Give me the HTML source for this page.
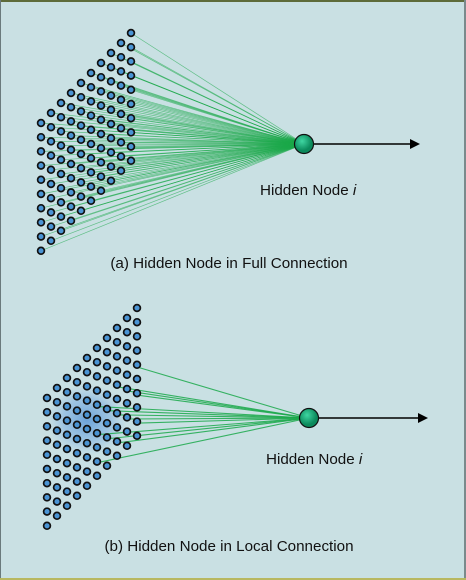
<!DOCTYPE html>
<html><head><meta charset="utf-8"><style>
html,body{margin:0;padding:0;background:#fff}
svg{display:block}
text{font-family:"Liberation Sans",Arial,sans-serif;font-size:15.2px;fill:#111}
</style></head><body>
<svg id="s" width="466" height="580" viewBox="0 0 466 580">
<defs>
<radialGradient id="glow"><stop offset="0" stop-color="#4d8fd6" stop-opacity="0.75"/><stop offset="0.6" stop-color="#6aa3e0" stop-opacity="0.45"/><stop offset="1" stop-color="#8ab8e8" stop-opacity="0"/></radialGradient>
<radialGradient id="node" cx="0.4" cy="0.35"><stop offset="0" stop-color="#3fd6a2"/><stop offset="1" stop-color="#0b8a5c"/></radialGradient>
</defs>
<rect x="0" y="0" width="466" height="580" fill="#c9e0e3"/>
<rect x="0" y="0" width="466" height="2" fill="#5d6b3a"/>
<rect x="0" y="0" width="1" height="580" fill="#6a7a7c"/>
<rect x="464" y="0" width="2" height="580" fill="#7a8a8c"/>
<rect x="0" y="578" width="466" height="2" fill="#b8b860"/>
<g id="top"></g>
<g id="bot"></g>
<text x="229" y="268" text-anchor="middle">(a) Hidden Node in Full Connection</text>
<text x="229" y="551" text-anchor="middle">(b) Hidden Node in Local Connection</text>
<text x="260" y="195">Hidden Node <tspan font-style="italic">i</tspan></text>
<text x="266" y="464">Hidden Node <tspan font-style="italic">i</tspan></text>
</svg>
<script>
const NS="http://www.w3.org/2000/svg";
const cols=10, rows=10;
const colors=["#1aa84a","#22b060","#8cc63f","#d4c62a","#16a050","#40b850","#1aa84a"];
function mk(t,a,p){const e=document.createElementNS(NS,t);for(const k in a)e.setAttribute(k,a[k]);p.appendChild(e);return e;}
function panel(g,x0,y0,nx,ny,local,ax){
  const dots=[];
  for(let k=0;k<cols;k++)for(let r=0;r<rows;r++){
    dots.push({k,r,x:x0+10*k,y:y0-10*k+14.2*r});
  }
  if(local){
    const gl=mk('ellipse',{cx:x0+40,cy:y0+22,rx:40,ry:36,fill:'url(#glow)'},g);
    
    
  }
  const lg=mk('g',{},g);
  
  
  dots.forEach((d,i)=>{
    const use=local?(d.k>=2&&d.k<=6&&d.r>=2&&d.r<=6&&((d.k+d.r)%2==0)):true;
    if(!use)return;
    const sx=local?d.x+28:d.x;
    const l=mk('line',{x1:sx,y1:d.y,x2:nx,y2:ny,stroke:colors[(i*7)%colors.length],'stroke-width':local?1.1:0.7,'stroke-opacity':local?0.85:0.6},lg);
    
    
  });
  dots.forEach(d=>{
    const c=mk('circle',{cx:d.x,cy:d.y,r:3.4,fill:'#4a94d4',stroke:'#111','stroke-width':1.7},g);
    
    
  });
  const a=mk('line',{x1:nx+9,y1:ny,x2:ax-8,y2:ny,stroke:'#000','stroke-width':1.6},g);
  
  
  const h=mk('polygon',{points:`${ax},${ny} ${ax-10},${ny-5} ${ax-10},${ny+5}`,fill:'#000'},g);
  
  
  const n=mk('circle',{cx:nx,cy:ny,r:9.5,fill:'url(#node)',stroke:'#111','stroke-width':1.2},g);
  
  
}
panel(document.getElementById('top'),41,123,304,144,false,420);
panel(document.getElementById('bot'),47,398,309,418,true,428);
</script>
</body></html>
